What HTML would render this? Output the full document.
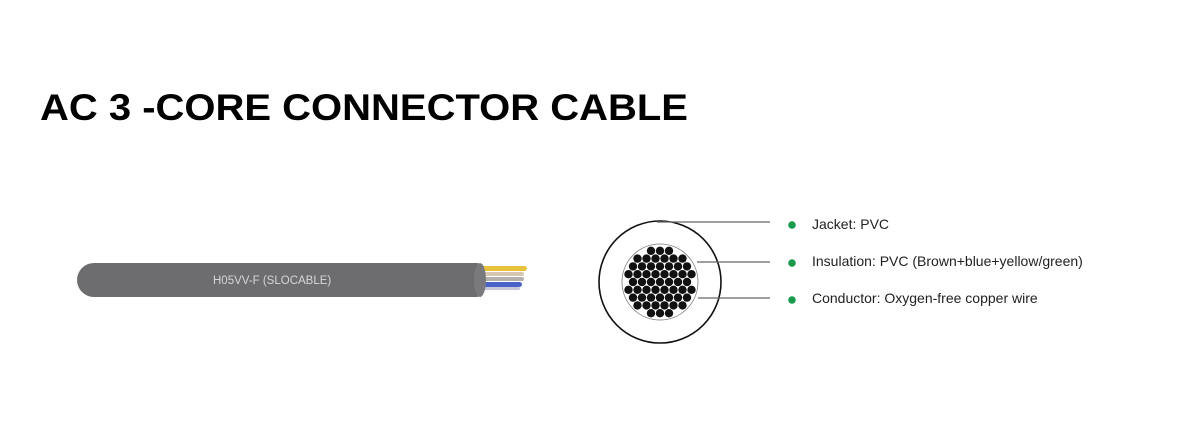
<!DOCTYPE html>
<html><head><meta charset="utf-8"><style>
html,body{margin:0;padding:0;background:#fff;width:1204px;height:428px;overflow:hidden}
</style></head><body>
<svg width="1204" height="428" viewBox="0 0 1204 428" xmlns="http://www.w3.org/2000/svg" font-family="Liberation Sans, Arial, sans-serif">
<text x="40" y="120" font-size="37.5" font-weight="bold" fill="#000" textLength="648" lengthAdjust="spacingAndGlyphs">AC 3 -CORE CONNECTOR CABLE</text>

<rect x="470" y="266" width="57" height="5" rx="2.5" fill="#e8c23a"/>
<rect x="470" y="272" width="54" height="4" rx="2" fill="#d8c7b0"/>
<rect x="470" y="277" width="54" height="4" rx="2" fill="#b3b0ae"/>
<rect x="470" y="282" width="52" height="5" rx="2.5" fill="#4a63c8"/>
<rect x="470" y="287" width="50" height="3" rx="1.5" fill="#c8c8d8"/>
<path d="M94 263 L478 263 Q488 280 478 297 L94 297 A17 17 0 0 1 94 263 Z" fill="#6d6d6f"/>
<ellipse cx="480" cy="280" rx="6" ry="17" fill="#7a7a7c"/>
<text x="213" y="284" font-size="11.5" fill="#d6d6d6">H05VV-F (SLOCABLE)</text>

<circle cx="660" cy="282" r="61" fill="#fff" stroke="#111" stroke-width="1.6"/>
<circle cx="660" cy="282" r="38" fill="#fff" stroke="#777" stroke-width="0.8"/>
<g fill="#111" transform="translate(660,282)">
<circle cx="-27" cy="0" r="4.2"/><circle cx="-18" cy="0" r="4.2"/><circle cx="-9" cy="0" r="4.2"/><circle cx="0" cy="0" r="4.2"/><circle cx="9" cy="0" r="4.2"/><circle cx="18" cy="0" r="4.2"/><circle cx="27" cy="0" r="4.2"/>
<circle cx="-31.5" cy="-7.8" r="4.2"/><circle cx="-22.5" cy="-7.8" r="4.2"/><circle cx="-13.5" cy="-7.8" r="4.2"/><circle cx="-4.5" cy="-7.8" r="4.2"/><circle cx="4.5" cy="-7.8" r="4.2"/><circle cx="13.5" cy="-7.8" r="4.2"/><circle cx="22.5" cy="-7.8" r="4.2"/><circle cx="31.5" cy="-7.8" r="4.2"/>
<circle cx="-31.5" cy="7.8" r="4.2"/><circle cx="-22.5" cy="7.8" r="4.2"/><circle cx="-13.5" cy="7.8" r="4.2"/><circle cx="-4.5" cy="7.8" r="4.2"/><circle cx="4.5" cy="7.8" r="4.2"/><circle cx="13.5" cy="7.8" r="4.2"/><circle cx="22.5" cy="7.8" r="4.2"/><circle cx="31.5" cy="7.8" r="4.2"/>
<circle cx="-27" cy="-15.6" r="4.2"/><circle cx="-18" cy="-15.6" r="4.2"/><circle cx="-9" cy="-15.6" r="4.2"/><circle cx="0" cy="-15.6" r="4.2"/><circle cx="9" cy="-15.6" r="4.2"/><circle cx="18" cy="-15.6" r="4.2"/><circle cx="27" cy="-15.6" r="4.2"/>
<circle cx="-27" cy="15.6" r="4.2"/><circle cx="-18" cy="15.6" r="4.2"/><circle cx="-9" cy="15.6" r="4.2"/><circle cx="0" cy="15.6" r="4.2"/><circle cx="9" cy="15.6" r="4.2"/><circle cx="18" cy="15.6" r="4.2"/><circle cx="27" cy="15.6" r="4.2"/>
<circle cx="-22.5" cy="-23.4" r="4.2"/><circle cx="-13.5" cy="-23.4" r="4.2"/><circle cx="-4.5" cy="-23.4" r="4.2"/><circle cx="4.5" cy="-23.4" r="4.2"/><circle cx="13.5" cy="-23.4" r="4.2"/><circle cx="22.5" cy="-23.4" r="4.2"/>
<circle cx="-22.5" cy="23.4" r="4.2"/><circle cx="-13.5" cy="23.4" r="4.2"/><circle cx="-4.5" cy="23.4" r="4.2"/><circle cx="4.5" cy="23.4" r="4.2"/><circle cx="13.5" cy="23.4" r="4.2"/><circle cx="22.5" cy="23.4" r="4.2"/>
<circle cx="-9" cy="-31.2" r="4.2"/><circle cx="0" cy="-31.2" r="4.2"/><circle cx="9" cy="-31.2" r="4.2"/>
<circle cx="-9" cy="31.2" r="4.2"/><circle cx="0" cy="31.2" r="4.2"/><circle cx="9" cy="31.2" r="4.2"/>
</g>
<g stroke="#666" stroke-width="1.3">
<line x1="657" y1="222" x2="770" y2="222"/>
<line x1="697" y1="262" x2="770" y2="262"/>
<line x1="698" y1="298" x2="770" y2="298"/>
</g>
<g fill="#1a9a4a">
<circle cx="792" cy="225" r="3.8"/><circle cx="792" cy="263" r="3.8"/><circle cx="792" cy="300" r="3.8"/>
</g>
<g font-size="14" fill="#222">
<text x="812" y="229">Jacket: PVC</text>
<text x="812" y="266">Insulation: PVC (Brown+blue+yellow/green)</text>
<text x="812" y="303">Conductor: Oxygen-free copper wire</text>
</g>
</svg>
</body></html>
